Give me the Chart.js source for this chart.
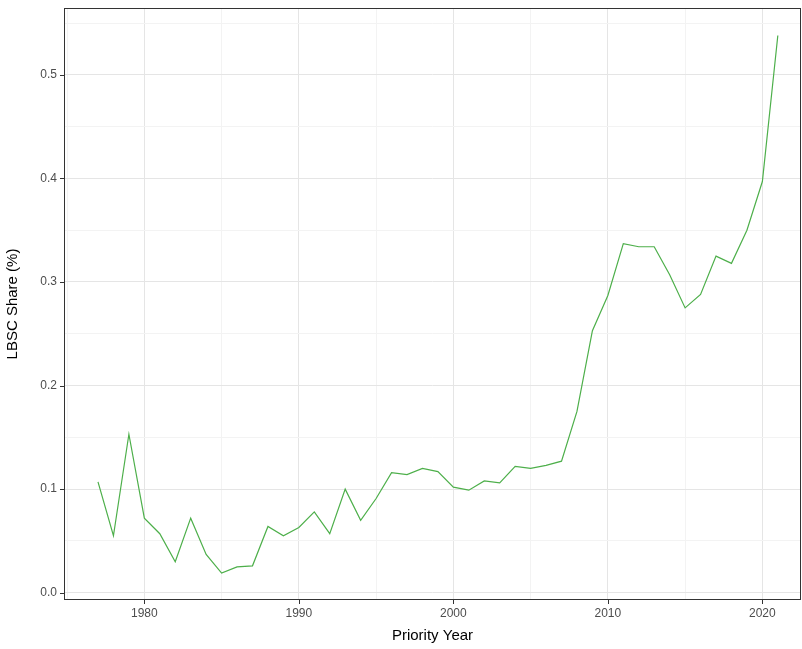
<!DOCTYPE html>
<html>
<head>
<meta charset="utf-8">
<script src="https://cdn.jsdelivr.net/npm/chart.js@4"></script>
<style>
  html, body { margin: 0; padding: 0; background: #fff; }
  #wrap { width: 802px; height: 649px; }
</style>
</head>
<body>
<div id="wrap"><canvas id="chart"></canvas></div>
<script>
// Priority years and LBSC share values
var years = [1977, 1978, 1979, 1980, 1981, 1982, 1983, 1984, 1985, 1986, 1987, 1988, 1989, 1990,
  1991, 1992, 1993, 1994, 1995, 1996, 1997, 1998, 1999, 2000, 2001, 2002, 2003, 2004, 2005,
  2006, 2007, 2008, 2009, 2010, 2011, 2012, 2013, 2014, 2015, 2016, 2017, 2018, 2019, 2020, 2021];
var share = [0.107, 0.055, 0.153, 0.072, 0.057, 0.030, 0.072, 0.037, 0.019, 0.025, 0.026, 0.064,
  0.055, 0.063, 0.078, 0.057, 0.100, 0.070, 0.091, 0.116, 0.114, 0.120, 0.117, 0.102, 0.099,
  0.108, 0.106, 0.122, 0.120, 0.123, 0.127, 0.175, 0.253, 0.287, 0.337, 0.334, 0.334, 0.307,
  0.275, 0.288, 0.325, 0.318, 0.350, 0.397, 0.538];
var xTicks = [1980, 1990, 2000, 2010, 2020];
var yTicks = [0, 0.1, 0.2, 0.3, 0.4, 0.5];

var FONT = "'Liberation Sans', Arial, sans-serif";
var points = years.map(function (y, i) { return { x: y, y: share[i] }; });

function isMajor(v, step) {
  return Math.abs(v / step - Math.round(v / step)) < 1e-6;
}

new Chart(document.getElementById('chart'), {
  type: 'line',
  data: {
    datasets: [{
      data: points,
      borderColor: '#4daf4a',
      borderWidth: 1.2,
      pointRadius: 0,
      tension: 0,
      fill: false
    }]
  },
  options: {
    responsive: true,
    maintainAspectRatio: false,
    animation: false,
    layout: { padding: { top: 8, right: 1, left: 0, bottom: 0 } },
    plugins: { legend: { display: false }, tooltip: { enabled: false } },
    scales: {
      x: {
        type: 'linear',
        min: 1974.8,
        max: 2022.5,
        afterBuildTicks: function (axis) {
          var t = [];
          for (var v = 1975; v <= 2020; v += 5) t.push({ value: v });
          axis.ticks = t;
        },
        afterFit: function (axis) { axis.height = 49; axis.paddingRight = 0; axis.paddingLeft = 0; },
        ticks: {
          color: '#4d4d4d',
          font: { family: FONT, size: 12 },
          padding: 6,
          maxRotation: 0,
          autoSkip: false,
          callback: function (v) { return isMajor(v, 10) ? String(v) : ''; }
        },
        grid: {
          color: function (ctx) { return isMajor(ctx.tick.value, 10) ? '#e5e5e5' : '#f3f3f3'; },
          drawTicks: false,
          lineWidth: 1
        },
        border: { display: false },
        title: { display: true, text: 'Priority Year', color: '#000', font: { family: FONT, size: 15 }, padding: { top: 2 } }
      },
      y: {
        min: -0.007,
        max: 0.5645,
        afterBuildTicks: function (axis) {
          var t = [];
          for (var i = 0; i <= 11; i++) t.push({ value: i * 0.05 });
          axis.ticks = t;
        },
        afterFit: function (axis) { axis.width = 64; axis.paddingTop = 0; axis.paddingBottom = 0; },
        ticks: {
          color: '#4d4d4d',
          font: { family: FONT, size: 12 },
          padding: 7,
          autoSkip: false,
          callback: function (v) { return isMajor(v, 0.1) ? v.toFixed(1) : ''; }
        },
        grid: {
          color: function (ctx) { return isMajor(ctx.tick.value, 0.1) ? '#e5e5e5' : '#f3f3f3'; },
          drawTicks: false,
          lineWidth: 1
        },
        border: { display: false },
        title: { display: true, text: 'LBSC Share (%)', color: '#000', font: { family: FONT, size: 15 }, padding: { bottom: 2 } }
      }
    }
  },
  plugins: [{
    id: 'frame',
    afterDraw: function (chart) {
      var a = chart.chartArea, c = chart.ctx;
      var sx = chart.scales.x, sy = chart.scales.y;
      c.save();
      c.strokeStyle = '#333';
      c.lineWidth = 1;
      c.strokeRect(a.left + 0.5, a.top + 0.5, a.right - a.left - 1, a.bottom - a.top - 1);
      c.beginPath();
      xTicks.forEach(function (v) {
        var px = Math.round(sx.getPixelForValue(v)) + 0.5;
        c.moveTo(px, a.bottom); c.lineTo(px, a.bottom + 4);
      });
      yTicks.forEach(function (v) {
        var py = Math.round(sy.getPixelForValue(v)) + 0.5;
        c.moveTo(a.left, py); c.lineTo(a.left - 4, py);
      });
      c.stroke();
      c.restore();
    }
  }]
});
</script>
</body>
</html>
